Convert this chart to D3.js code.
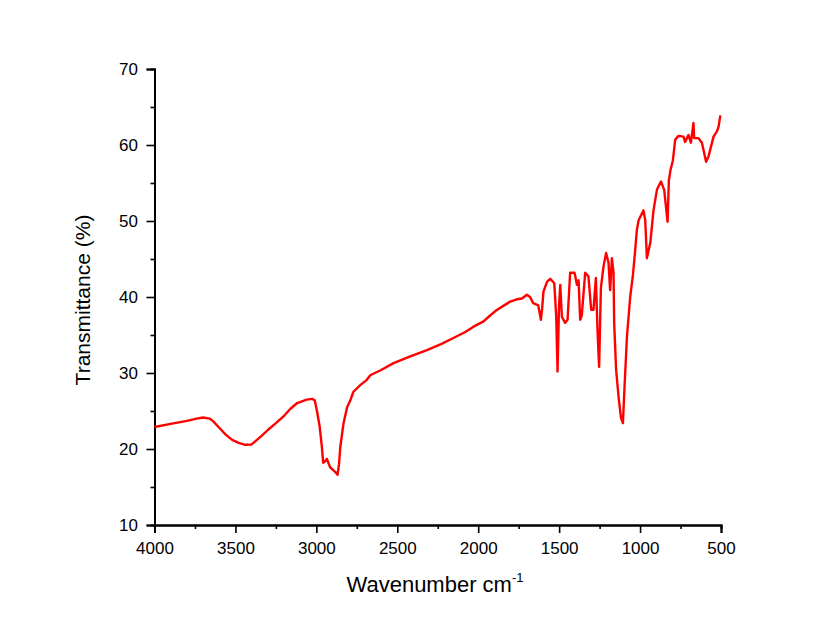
<!DOCTYPE html>
<html>
<head>
<meta charset="utf-8">
<script src="https://cdn.jsdelivr.net/npm/d3@7/dist/d3.min.js"></script>
<style>
body { margin: 0; background: #fff; }
svg { font-family: Arial, "Liberation Sans", sans-serif; }
</style>
</head>
<body>
<div id="chart"></div>
<script>
// spectrum
let wavenumber = [4000, 3900, 3800, 3740, 3700, 3660, 3640, 3600, 3560, 3520, 3480, 3440, 3400, 3378, 3340, 3300, 3250, 3205, 3160, 3118, 3060, 3026, 3010, 2997, 2980, 2966, 2958, 2945, 2935, 2915, 2884, 2869, 2860, 2852, 2832, 2810, 2790, 2772, 2729, 2688, 2667, 2600, 2523, 2420, 2317, 2230, 2153, 2080, 2029, 1967, 1930, 1885, 1840, 1802, 1761, 1730, 1699, 1680, 1660, 1629, 1613, 1605, 1597, 1575, 1555, 1530, 1518, 1510, 1501, 1493, 1483, 1463, 1448, 1432, 1405, 1390, 1380, 1370, 1360, 1339, 1319, 1302, 1288, 1273, 1263, 1253, 1242, 1226, 1210, 1195, 1185, 1174, 1164, 1160, 1148, 1133, 1118, 1106, 1096, 1081, 1061, 1044, 1030, 1020, 1009, 979, 968, 958, 937, 917, 896, 871, 851, 830, 822, 812, 797, 783, 763, 732, 722, 701, 686, 670, 666, 639, 618, 592, 577, 546, 525, 515, 504]
let transmittance = [22.9, 23.3, 23.7, 24.0, 24.15, 24.0, 23.7, 22.8, 21.9, 21.2, 20.8, 20.55, 20.6, 21.0, 21.7, 22.5, 23.4, 24.25, 25.3, 26.05, 26.5, 26.6, 26.4, 25.1, 23.0, 20.3, 18.2, 18.4, 18.7, 17.6, 17.0, 16.6, 18.0, 20.3, 23.4, 25.5, 26.4, 27.5, 28.4, 29.1, 29.7, 30.4, 31.3, 32.2, 33.0, 33.8, 34.6, 35.4, 36.1, 36.8, 37.5, 38.3, 38.9, 39.4, 39.7, 39.8, 40.3, 40.0, 39.2, 38.9, 37.0, 38.5, 40.7, 42.0, 42.4, 41.8, 37.4, 30.2, 38.7, 41.6, 37.4, 36.6, 37.0, 43.2, 43.2, 41.6, 42.2, 37.0, 37.6, 43.2, 42.7, 38.3, 38.3, 42.5, 35.7, 30.8, 41.2, 44.0, 45.8, 44.5, 40.9, 45.1, 43.2, 36.6, 30.4, 26.9, 24.1, 23.4, 28.2, 34.8, 40.0, 42.9, 46.2, 48.8, 50.1, 51.4, 50.1, 45.1, 47.1, 51.4, 54.1, 55.2, 54.1, 49.9, 55.4, 56.7, 58.0, 60.7, 61.2, 61.1, 60.4, 61.3, 60.3, 62.9, 60.9, 60.9, 60.3, 57.8, 58.5, 61.1, 61.8, 62.4, 63.9]

let xTicks = [4000, 3500, 3000, 2500, 2000, 1500, 1000, 500]
let xMinor = [3750, 3250, 2750, 2250, 1750, 1250, 750]
let yTicks = [10, 20, 30, 40, 50, 60, 70]
let yMinor = [15, 25, 35, 45, 55, 65]

let size = {
  width: 820,
  height: 623,
  left: 154.5,
  right: 721,
  top: 69,
  bottom: 525
}

let svg = d3.select('#chart')
  .append('svg')
  .attr('width', size.width)
  .attr('height', size.height)

let xScale = d3.scaleLinear()
  .domain([4000, 500])
  .range([size.left, size.right])
let yScale = d3.scaleLinear()
  .domain([10, 70])
  .range([size.bottom, size.top])

// minor ticks first, then the labelled axes on top
svg.append('g')
  .attr('transform', `translate(0,${size.bottom})`)
  .call(d3.axisBottom(xScale).tickValues(xMinor).tickSize(4).tickFormat(''))
svg.append('g')
  .attr('transform', `translate(${size.left},0)`)
  .call(d3.axisLeft(yScale).tickValues(yMinor).tickSize(4).tickFormat(''))

let gX = svg.append('g')
  .attr('transform', `translate(0,${size.bottom})`)
  .call(d3.axisBottom(xScale).tickValues(xTicks).tickSize(8).tickPadding(9).tickFormat(d3.format('d')))
let gY = svg.append('g')
  .attr('transform', `translate(${size.left},0)`)
  .call(d3.axisLeft(yScale).tickValues(yTicks).tickSize(8).tickPadding(8.5))

svg.selectAll('.domain').attr('stroke', '#000').attr('stroke-width', 2)
svg.selectAll('.tick line').attr('stroke', '#000').attr('stroke-width', 1.6)
svg.selectAll('.tick text')
  .attr('fill', '#000')
  .style('font-size', '17px')
  .style('font-family', 'Arial, "Liberation Sans", sans-serif')

// spectrum line
let points = wavenumber.map((w, i) => [w, transmittance[i]])
svg.append('path')
  .datum(points)
  .attr('fill', 'none')
  .attr('stroke', '#ff0000')
  .attr('stroke-width', 2.4)
  .attr('stroke-linejoin', 'round')
  .attr('d', d3.line().x(d => xScale(d[0])).y(d => yScale(d[1])))

// axis titles
let xTitle = svg.append('text')
  .attr('x', 435)
  .attr('y', 592)
  .attr('text-anchor', 'middle')
  .style('font-size', '22px')
  .attr('fill', '#000')
xTitle.append('tspan').text('Wavenumber cm')
xTitle.append('tspan')
  .attr('dy', -10)
  .style('font-size', '13px')
  .text('-1')

svg.append('text')
  .attr('transform', 'translate(90,300) rotate(-90)')
  .attr('text-anchor', 'middle')
  .style('font-size', '21px')
  .attr('fill', '#000')
  .text('Transmittance (%)')
</script>
</body>
</html>
